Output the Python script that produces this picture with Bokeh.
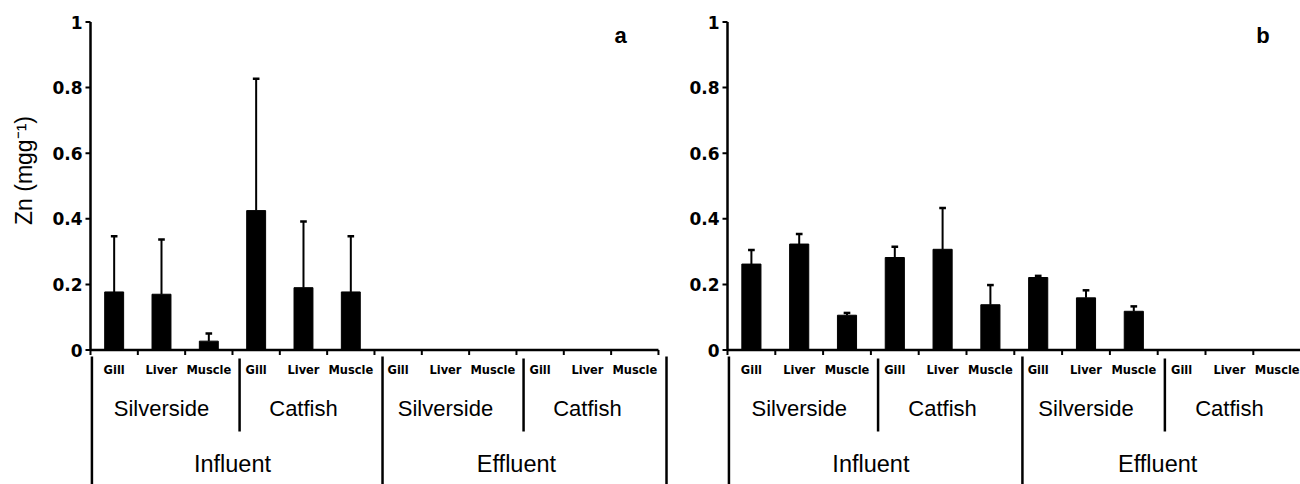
from bokeh.plotting import figure
from bokeh.layouts import row
from bokeh.models import Range1d, ColumnDataSource
from bokeh.core.properties import value
from bokeh.embed import file_html
from bokeh.resources import INLINE
import math

# ---------------- data ----------------
sites = ["Influent", "Effluent"]
species = ["Silverside", "Catfish"]
tissues = ["Gill", "Liver", "Muscle"]

# panel a (Zn, mg g-1): mean and SD for the 12 site/species/tissue combinations
zn_a_mean = [0.177, 0.170, 0.027, 0.425, 0.190, 0.177, 0.0, 0.0, 0.0, 0.0, 0.0, 0.0]
zn_a_sd = [0.170, 0.167, 0.023, 0.402, 0.202, 0.170, 0.0, 0.0, 0.0, 0.0, 0.0, 0.0]
# panel b
zn_b_mean = [0.262, 0.323, 0.106, 0.282, 0.307, 0.138, 0.221, 0.159, 0.118, 0.0, 0.0, 0.0]
zn_b_sd = [0.043, 0.031, 0.007, 0.033, 0.126, 0.060, 0.005, 0.023, 0.015, 0.0, 0.0, 0.0]

y_ticks = [0, 0.2, 0.4, 0.6, 0.8, 1]
y_tick_labels = ["0", "0.2", "0.4", "0.6", "0.8", "1"]
y_title = "Zn (mgg\u207b\u00b9)"

# ---------------- layout constants (pixels) ----------------
H = 484
Y1_PX = 21.5
Y0_PX = 349.5
UNIT = Y0_PX - Y1_PX


def ypx(py):
    return (Y0_PX - py) / UNIT


TISSUE_FONT = value("'DejaVu Sans Condensed', 'DejaVu Sans'")
TICK_FONT = value("DejaVu Sans")
ARIAL = value("Liberation Sans")


def make_panel(mean, sd, letter, width, left_px, cat_px, with_title):
    n_cat = len(sites) * len(species) * len(tissues)
    p = figure(width=width, height=H,
               x_range=Range1d(-left_px / cat_px, (width - left_px) / cat_px),
               y_range=Range1d(ypx(H), ypx(0)),
               output_backend="svg", toolbar_location=None,
               x_axis_location=None, y_axis_location=None,
               min_border_left=0, min_border_right=0,
               min_border_top=0, min_border_bottom=0)
    p.outline_line_color = None
    p.grid.visible = False

    def dx(px):
        return px / cat_px

    # y axis: line, ticks, labels
    p.segment(x0=[0], y0=[y_ticks[0]], x1=[0], y1=[y_ticks[-1]],
              line_color="black", line_width=2.5)
    p.segment(x0=[0] * len(y_ticks), y0=y_ticks, x1=[dx(-5)] * len(y_ticks), y1=y_ticks,
              line_color="black", line_width=2)
    p.text(x=[dx(-8)] * len(y_ticks), y=y_ticks, text=y_tick_labels, text_font=TICK_FONT,
           text_font_style="bold", text_font_size="17px", text_align="right",
           text_baseline="middle", text_color="black")
    if with_title:
        p.text(x=[dx(23 - left_px)], y=[ypx(170)], text=[y_title], angle=math.pi / 2,
               text_font=ARIAL, text_font_size="23px", text_align="center",
               text_baseline="middle", text_color="black")

    xs = [i + 0.5 for i in range(n_cat)]
    src = ColumnDataSource(dict(x=xs, top=mean))
    p.vbar(x="x", top="top", width=0.4, source=src, color="black")

    # error bars (upper only, with cap)
    ex, ey0, ey1 = [], [], []
    for x, m, s in zip(xs, mean, sd):
        if m > 0:
            ex.append(x)
            ey0.append(m)
            ey1.append(m + s)
    p.segment(x0=ex, y0=ey0, x1=ex, y1=ey1, line_color="black", line_width=2)
    p.segment(x0=[x - 0.07 for x in ex], y0=ey1, x1=[x + 0.07 for x in ex], y1=ey1,
              line_color="black", line_width=2.5)

    # x axis line and category ticks
    p.segment(x0=[0], y0=[0], x1=[n_cat], y1=[0], line_color="black", line_width=2.5)
    bounds = list(range(n_cat + 1))
    p.segment(x0=bounds, y0=[0] * len(bounds), x1=bounds, y1=[ypx(Y0_PX + 5)] * len(bounds),
              line_color="black", line_width=2)

    # tissue labels
    tis_lab = [t for _ in sites for _ in species for t in tissues]
    p.text(x=xs, y=[ypx(368.5)] * n_cat, text=tis_lab, text_font=TISSUE_FONT,
           text_font_style="bold", text_font_size="12.7px", text_align="center",
           text_baseline="middle", text_color="black")
    # species labels
    nt = len(tissues)
    sp_x = [(k + 0.5) * nt for k in range(len(sites) * len(species))]
    sp_lab = [s for _ in sites for s in species]
    p.text(x=sp_x, y=[ypx(408)] * len(sp_x), text=sp_lab, text_font=ARIAL,
           text_font_size="22px", text_align="center", text_baseline="middle",
           text_color="black")
    # site labels
    ns = nt * len(species)
    st_x = [(k + 0.5) * ns for k in range(len(sites))]
    p.text(x=st_x, y=[ypx(463)] * len(st_x), text=sites, text_font=ARIAL,
           text_font_size="23.5px", text_align="center", text_baseline="middle",
           text_color="black")
    # divider lines
    site_div = [0.03] + [(k + 1) * ns + 0.17 for k in range(len(sites))]
    p.segment(x0=site_div, y0=[ypx(356)] * len(site_div), x1=site_div, y1=[ypx(H)] * len(site_div),
              line_color="black", line_width=2.5)
    sp_div = [k * ns + nt + 0.15 for k in range(len(sites))]
    p.segment(x0=sp_div, y0=[ypx(358)] * len(sp_div), x1=sp_div, y1=[ypx(431)] * len(sp_div),
              line_color="black", line_width=2.5)

    # panel letter
    p.text(x=[11.2], y=[ypx(35)], text=[letter], text_font=ARIAL, text_font_style="bold",
           text_font_size="22px", text_align="center", text_baseline="middle",
           text_color="black")
    return p


pa = make_panel(zn_a_mean, zn_a_sd, "a", 680, 90, 47.33, True)
pb = make_panel(zn_b_mean, zn_b_sd, "b", 620, 47, 47.8, False)

layout = row(pa, pb)
open("out.html", "w").write(file_html(layout, INLINE))
